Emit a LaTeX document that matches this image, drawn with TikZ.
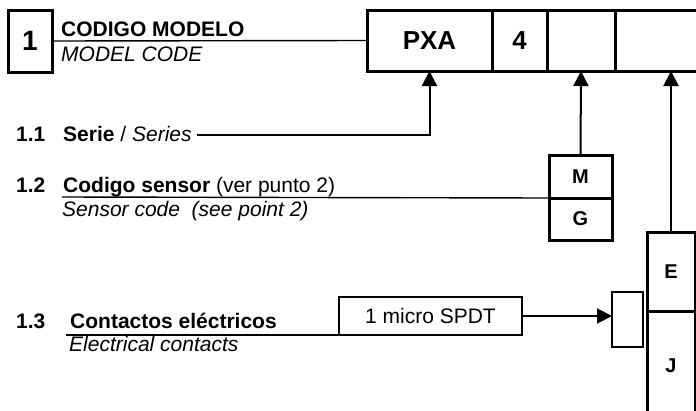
\documentclass[tikz,border=0pt]{standalone}
\usepackage{fontspec}
\setmainfont{Liberation Sans}
\usetikzlibrary{arrows.meta,positioning,calc}

\begin{document}
\begin{tikzpicture}[
    x=1pt, y=-1pt,
    cell/.style={draw, line width=3pt, inner sep=0pt, outer sep=0pt,
      minimum height=61pt, font=\bfseries\fontsize{26}{30}\selectfont},
    letterbox/.style={draw, line width=3pt, inner sep=0pt, outer sep=0pt,
      minimum width=63pt, font=\bfseries\fontsize{20}{24}\selectfont},
    lbl/.style={inner sep=0pt, anchor=base west, font=\fontsize{21}{25}\selectfont},
    feed/.style={line width=2pt, -{Triangle[length=15pt,width=15pt]}},
    rule/.style={line width=1.4pt}
  ]
  \useasboundingbox (0,0) rectangle (696,410);

  % model code row
  \node[draw, line width=3pt, inner sep=0pt, outer sep=0pt,
    minimum width=44pt, minimum height=62pt,
    font=\bfseries\fontsize{28}{32}\selectfont] (one) at (30,41) {1};
  \node[cell, minimum width=125pt] (pxa) at (429.5,40.5) {PXA};
  \node[cell, minimum width=55pt, right=0pt of pxa] (four) {4};
  \node[cell, minimum width=68pt, right=0pt of four] (sensor) {};
  \node[cell, minimum width=82pt, right=0pt of sensor] (contact) {};

  \node[lbl, font=\bfseries\fontsize{21}{25}\selectfont] (title) at (61,36) {CODIGO MODELO};
  \node[lbl, font=\itshape\fontsize{21}{25}\selectfont] (subtitle) at (61,61) {MODEL CODE};
  \draw[rule] (one.east) -- (pxa.west);

  % 1.1 series
  \node[lbl, font=\bfseries\fontsize{21}{25}\selectfont] (n11) at (16,141) {1.1};
  \node[lbl] (serie) at (63,141) {\textbf{Serie} / \textit{Series}};
  \draw[feed] ([xshift=5pt,yshift=6pt]serie.base east) -| (pxa.south);

  % 1.2 sensor code
  \node[lbl, font=\bfseries\fontsize{21}{25}\selectfont] (n12) at (16,192) {1.2};
  \node[lbl] (codigo) at (63,192) {\textbf{Codigo sensor} (ver punto 2)};
  \node[lbl, font=\itshape\fontsize{21}{25}\selectfont] (sensorcode) at (62,216) {Sensor code\ \ (see point 2)};
  \node[letterbox, minimum height=43pt] (m) at (580.5,176.5) {M};
  \node[letterbox, minimum height=42pt, below=0pt of m] (g) {G};
  \coordinate (u12) at (62,197);
  \draw[rule] (u12) -- (m.south west);
  \draw[feed] (m.north) -- (sensor.south);

  % 1.3 electrical contacts
  \node[lbl, font=\bfseries\fontsize{21}{25}\selectfont] (n13) at (16,328) {1.3};
  \node[lbl, font=\bfseries\fontsize{21}{25}\selectfont] (contactos) at (70,328) {Contactos eléctricos};
  \node[lbl, font=\itshape\fontsize{21}{25}\selectfont] (electrical) at (69,351) {Electrical contacts};
  \node[draw, line width=1.4pt, inner sep=0pt, outer sep=0pt,
    minimum width=183pt, minimum height=38pt,
    font=\fontsize{21}{25}\selectfont] (spdt) at (430.5,316) {1 micro SPDT};
  \coordinate (u13) at (66,335);
  \draw[rule] (u13) -- (spdt.south west);

  \node[letterbox, minimum width=48pt, minimum height=79pt] (e) at (671,271.5) {E};
  \node[letterbox, minimum width=48pt, minimum height=110pt, below=0pt of e] (j) {J};
  \node[draw, line width=2pt, inner sep=0pt, outer sep=0pt,
    minimum width=31pt, minimum height=55pt] (tiny) at (627.5,319.5) {};
  \draw[feed] (spdt.east) -- (spdt.east -| tiny.west);
  \draw[feed] (e.north) -- (e.north |- contact.south);
\end{tikzpicture}
\end{document}
